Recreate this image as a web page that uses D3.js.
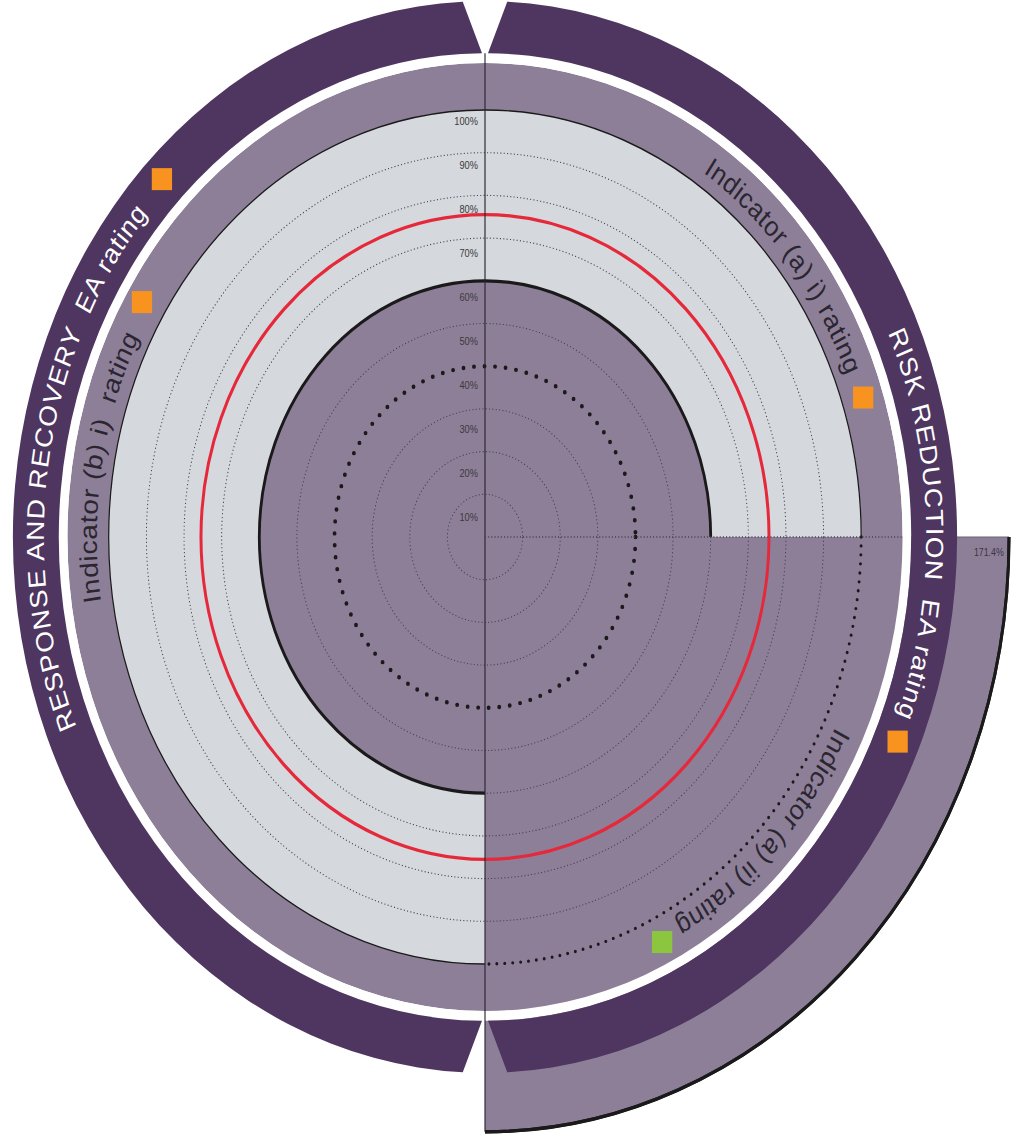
<!DOCTYPE html>
<html><head><meta charset="utf-8">
<script src="https://cdn.jsdelivr.net/npm/d3@7"></script>
<style>html,body{margin:0;padding:0;background:#fff;} svg{display:block}</style>
</head><body>
<svg id="chart" width="1019" height="1138"></svg>
<script>
// ---------------- data ----------------
const indicatorLabels = ["Indicator (a) i) rating", "Indicator (a) ii) rating", "Indicator (b) i)\u00a0 rating"];
const indicatorValues = [60, 171.4, 60];          // % achieved
const indicatorStartDeg = [0, 90, 180];
const indicatorEndDeg = [90, 180, 360];
const indicatorRatings = ["amber", "green", "amber"];
const areaLabels = ["RISK REDUCTION\u00a0 EA rating", "RESPONSE AND RECOVERY\u00a0 EA rating"];
const areaStartDeg = [0, 180];
const areaEndDeg = [180, 360];
const areaRatings = ["amber", "amber"];
const tickValues = [10, 20, 30, 40, 50, 60, 70, 80, 90, 100];
const tickLabels = ["10%", "20%", "30%", "40%", "50%", "60%", "70%", "80%", "90%", "100%"];
const targetValue = 75.5;       // red ring
const thresholdValue = 40;      // heavy dotted ring
const displayCap = 139.3;       // values above this are drawn at the cap
const overValueLabel = "171.4%";

// ---------------- layout ----------------
const cx = 485, cy = 537, R = 427, sx = 0.881;
const ratingColor = {amber: "#f7931e", green: "#8cc63f"};
const C = {light: "#d5d8dc", mid: "#8e7f99", dark: "#4e3660", line: "#1a1a1a", grid: "#45414f", red: "#e5293b"};
const bandIn = 1.0, bandOut = 1.11, darkIn = 1.133, darkOut = 1.255;
const indLabelCenter = [51.4, 133.2, 279.3];
const areaLabelCenter = [88.5, 279];
const indSquare = [[72, 1.057], [153.6, 1.059], [301.1, 1.065]];
const areaSquare = [[113.6, 1.197], [314.3, 1.2]];

const rad = d => d * Math.PI / 180;
const r = d3.scaleLinear().domain([0, 100]).range([0, R]);
const labelPos = d3.scaleLinear().domain([10, 100]).range([20, 416]);
const pt = (th, rr) => [rr * Math.sin(th), -rr * Math.cos(th)];

const svg = d3.select("#chart");
svg.append("rect").attr("width", 1019).attr("height", 1138).attr("fill", "#fff");
const g = svg.append("g").attr("transform", `translate(${cx},${cy}) scale(${sx},1)`);

function arcLine(t0, t1, rr) {
  const p = d3.path();
  const s = pt(t0, rr);
  p.moveTo(s[0], s[1]);
  p.arc(0, 0, rr, t0 - Math.PI / 2, t1 - Math.PI / 2, t1 < t0);
  return p.toString();
}
const arc = d3.arc();

// light disc (0..100%)
g.append("circle").attr("r", r(100)).attr("fill", C.light);
// indicator band ring
g.append("path").attr("d", arc({innerRadius: r(100 * bandIn), outerRadius: r(100 * bandOut), startAngle: 0, endAngle: 2 * Math.PI})).attr("fill", C.mid);

// value sectors
const shown = indicatorValues.map(v => Math.min(v, displayCap));
g.selectAll("path.val").data(indicatorValues).join("path").attr("class", "val")
  .attr("d", (v, i) => arc({innerRadius: 0, outerRadius: r(shown[i]), startAngle: rad(indicatorStartDeg[i]), endAngle: rad(indicatorEndDeg[i])}))
  .attr("fill", C.mid);

// over-100 wedge edges (thin top edge beyond band)
indicatorValues.forEach((v, i) => {
  if (v > 100) {
    const a = rad(indicatorStartDeg[i]);
    const p0 = pt(a, r(100 * bandOut)), p1 = pt(a, r(shown[i]));
    g.append("line").attr("x1", p0[0]).attr("y1", p0[1]).attr("x2", p1[0]).attr("y2", p1[1])
      .attr("stroke", "#6d6477").attr("stroke-width", 1.2);
  }
});

// grid rings
g.selectAll("circle.grid").data(tickValues.filter(v => v < 100 && v !== thresholdValue)).join("circle")
  .attr("class", "grid").attr("r", d => r(d)).attr("fill", "none")
  .attr("stroke", C.grid).attr("stroke-width", 1.1).attr("stroke-dasharray", "1.2 2.6");
// threshold ring
g.append("circle").attr("r", r(thresholdValue)).attr("fill", "none").attr("stroke", C.line)
  .attr("stroke-width", 4.4).attr("stroke-linecap", "round").attr("stroke-dasharray", "0 12");
// target ring
g.append("circle").attr("r", r(targetValue)).attr("fill", "none").attr("stroke", C.red).attr("stroke-width", 3.4);

// value outlines and 100% ring
indicatorValues.forEach((v, i) => {
  const t0 = rad(indicatorStartDeg[i]), t1 = rad(indicatorEndDeg[i]);
  g.append("path").attr("d", arcLine(t0, t1, r(shown[i]))).attr("fill", "none")
    .attr("stroke", C.line).attr("stroke-width", 3.2);
  if (v < 100) {
    g.append("path").attr("d", arcLine(t0, t1, r(100))).attr("fill", "none").attr("stroke", C.line).attr("stroke-width", 1.4);
  } else {
    g.append("path").attr("d", arcLine(t0, t1, r(100))).attr("fill", "none").attr("stroke", C.line)
      .attr("stroke-width", 3.4).attr("stroke-linecap", "round").attr("stroke-dasharray", "0 9");
  }
});

// white separator ring
g.append("path").attr("d", arc({innerRadius: r(100 * bandOut), outerRadius: r(100 * darkIn), startAngle: 0, endAngle: 2 * Math.PI})).attr("fill", "#fff");

// dark area bands with notches
function bandPath(t0, t1, ri, ro, ni, no) {
  const p = d3.path();
  const a = pt(t0 + ni, ri);
  p.moveTo(a[0], a[1]);
  p.arc(0, 0, ri, t0 + ni - Math.PI / 2, t1 - ni - Math.PI / 2, false);
  const b = pt(t1 - no, ro);
  p.lineTo(b[0], b[1]);
  p.arc(0, 0, ro, t1 - no - Math.PI / 2, t0 + no - Math.PI / 2, true);
  p.closePath();
  return p.toString();
}
areaLabels.forEach((l, i) => {
  g.append("path").attr("d", bandPath(rad(areaStartDeg[i]), rad(areaEndDeg[i]), r(100 * darkIn), r(100 * darkOut), rad(0.4), rad(2.7)))
    .attr("fill", C.dark);
});

// axes
g.append("line").attr("x1", 0).attr("x2", 0).attr("y1", -r(100 * darkIn)).attr("y2", r(shown[1]))
  .attr("stroke", "#2a2430").attr("stroke-width", 1.3);
g.append("line").attr("x1", 0).attr("x2", r(100 * bandOut)).attr("y1", 0).attr("y2", 0)
  .attr("stroke", C.grid).attr("stroke-width", 1.3).attr("stroke-dasharray", "1.2 2.4");

// over-value wedge outer outline
indicatorValues.forEach((v, i) => {
  if (v > 100) {
    g.append("path").attr("d", arcLine(rad(indicatorStartDeg[i]), rad(indicatorEndDeg[i]), r(shown[i])))
      .attr("fill", "none").attr("stroke", C.line).attr("stroke-width", 3.4);
    const lp = pt(rad(indicatorStartDeg[i]), r(shown[i]) - 6);
    g.append("text").attr("x", lp[0]).attr("y", lp[1] + 19).attr("text-anchor", "end")
      .attr("font-family", "Liberation Sans, Arial, sans-serif").attr("font-size", 10).attr("fill", "#3a3440")
      .text(overValueLabel);
  }
});

// tick labels
g.selectAll("text.tick").data(tickValues).join("text").attr("class", "tick")
  .attr("x", -8).attr("y", d => -labelPos(d)).attr("dy", "0.35em").attr("text-anchor", "end")
  .attr("font-family", "Liberation Sans, Arial, sans-serif").attr("font-size", 10.5).attr("fill", "#3a3a3a")
  .text((d, i) => tickLabels[i]);

// curved labels
const defs = svg.append("defs");
function curved(id, centerDeg, rr, text, color, size, ls) {
  const c = rad(centerDeg), half = rad(60);
  defs.append("path").attr("id", id).attr("d", arcLine(c - half, c + half, rr));
  g.append("text").attr("font-family", "Liberation Sans, Arial, sans-serif").attr("font-size", size)
    .attr("fill", color).attr("letter-spacing", ls)
    .append("textPath").attr("href", "#" + id).attr("startOffset", "50%").attr("text-anchor", "middle").text(text);
}
indicatorLabels.forEach((l, i) => curved("ind" + i, indLabelCenter[i], r(103.2), l, "#2a2630", 28, 0.6));
areaLabels.forEach((l, i) => curved("area" + i, areaLabelCenter[i], r(117.3), l, "#fff", 28, 1.0));

// rating squares
function square(deg, f, rating) {
  const p = pt(rad(deg), r(100 * f));
  g.append("rect").attr("x", p[0] - 11.5).attr("y", p[1] - 11).attr("width", 23).attr("height", 22)
    .attr("fill", ratingColor[rating]);
}
indicatorRatings.forEach((rt, i) => square(indSquare[i][0], indSquare[i][1], rt));
areaRatings.forEach((rt, i) => square(areaSquare[i][0], areaSquare[i][1], rt));
</script>
</body></html>
